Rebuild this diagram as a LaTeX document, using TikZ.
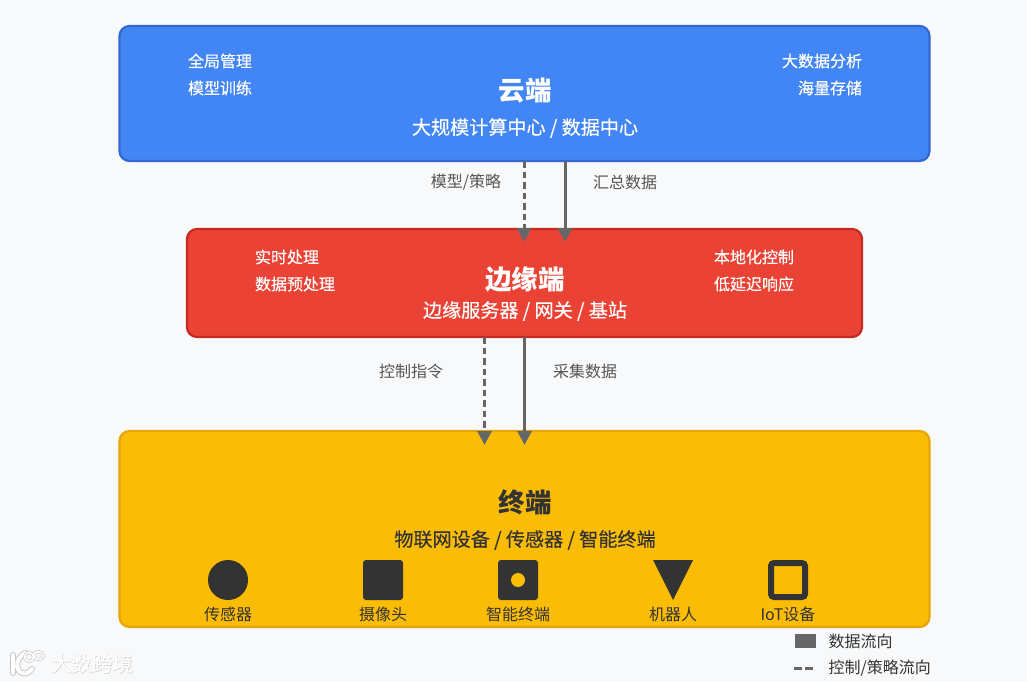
\documentclass[tikz,border=0pt]{standalone}
\usepackage{fontspec}
\setmainfont{Noto Sans CJK SC}
\newfontfamily\medfont[FakeBold=0.35]{Noto Sans CJK SC}
\newfontfamily\wmfont[FakeBold=0.6]{Noto Sans CJK SC}
\newfontfamily\wmshadefont[FakeBold=1.6]{Noto Sans CJK SC}
\usetikzlibrary{arrows.meta,calc}
\definecolor{bg}{HTML}{F8F9FA}
\definecolor{cloudfill}{HTML}{4285F4}
\definecolor{cloudline}{HTML}{3367D6}
\definecolor{edgefill}{HTML}{EA4335}
\definecolor{edgeline}{HTML}{C5291F}
\definecolor{termfill}{HTML}{FBBC05}
\definecolor{termline}{HTML}{E6A50A}
\definecolor{flow}{HTML}{666666}
\definecolor{ink}{HTML}{333333}
\definecolor{lab}{HTML}{555555}
\definecolor{wmshade}{HTML}{C8C9CA}
\tikzset{
 tier/.style={draw=#1line,fill=#1fill,line width=2.2pt,rounded corners=10pt,inner sep=0pt,outer sep=0pt,anchor=north west},
 big/.style={font=\fontsize{26.5}{30}\selectfont\bfseries},
 sub/.style={font=\fontsize{19.1}{22}\medfont},
 small/.style={font=\fontsize{16}{20}\medfont,text=white},
 flowlab/.style={font=\fontsize{16}{20}\selectfont,text=lab},
 devlab/.style={font=\fontsize{16}{20}\selectfont,text=ink},
 flowline/.style={draw=flow,line width=3pt,-{Triangle[length=14pt,width=14pt]}},
 ctrl/.style={flowline,dash pattern=on 6.5pt off 4pt},
 dev/.style={fill=ink,inner sep=0pt,minimum width=40pt,minimum height=40pt},
 legendlab/.style={font=\fontsize{16}{20}\selectfont,text=ink,anchor=west},
}
\begin{document}
\begin{tikzpicture}[x=1pt,y=-1pt]
\useasboundingbox (0,0) rectangle (1027,681);
\fill[bg] (0,0) rectangle (1027,681);
% tiers
\node[tier=cloud,minimum width=810pt,minimum height=135pt] (cloud) at (119.5,26) {};
\node[tier=edge,minimum width=675pt,minimum height=108pt] (edge) at (187,229) {};
\node[tier=term,minimum width=810pt,minimum height=196pt] (term) at (119.5,431) {};
% cloud text
\node[big,text=white] (cloudt) at (525,91) {云端};
\node[sub,text=white] (clouds) at (525,128) {大规模计算中心 / 数据中心};
\node[small] (c1) at (220,61) {全局管理};
\node[small] (c2) at (220,88) {模型训练};
\node[small] (c3) at (822,61) {大数据分析};
\node[small] (c4) at (830,88) {海量存储};
% edge text
\node[big,text=white] (edget) at (525,280) {边缘端};
\node[sub,text=white] (edges) at (525,311) {边缘服务器 / 网关 / 基站};
\node[small] (e1) at (287,257) {实时处理};
\node[small] (e2) at (295,284) {数据预处理};
\node[small] (e3) at (754,257) {本地化控制};
\node[small] (e4) at (754,284) {低延迟响应};
% terminal text
\node[big,text=ink] (termt) at (525,502) {终端};
\node[sub,text=ink] (terms) at (525,540) {物联网设备 / 传感器 / 智能终端};
% devices
\node[dev,circle] (d1) at (228,580) {};
\node[dev,rounded corners=3pt] (d2) at (383,580) {};
\node[dev,rounded corners=3pt] (d3) at (518,580) {};
\node[circle,fill=termfill,inner sep=0pt,minimum size=14pt] (d3i) at (518,580) {};
\coordinate (d4) at (673,580);
\fill[ink] ($(d4)+(-20,-20)$) -- ($(d4)+(20,-20)$) -- ($(d4)+(0,20)$) -- cycle;
\node[draw=ink,line width=6pt,fill=none,rounded corners=3pt,inner sep=0pt,outer sep=0pt,minimum width=34pt,minimum height=34pt] (d5) at (788,580) {};
\node[devlab] (l1) at (228,614.5) {传感器};
\node[devlab] (l2) at (383,614.5) {摄像头};
\node[devlab] (l3) at (518,614.5) {智能终端};
\node[devlab] (l4) at (673,614.5) {机器人};
\node[devlab] (l5) at (788,614.5) {IoT设备};
% connectors
\coordinate (a1) at (524,242);
\coordinate (a2) at (565,242);
\coordinate (a3) at (484.5,445);
\coordinate (a4) at (524.5,445);
\draw[ctrl] (cloud.south -| a1) -- (a1);
\draw[flowline] (cloud.south -| a2) -- (a2);
\draw[ctrl] (edge.south -| a3) -- (a3);
\draw[flowline] (edge.south -| a4) -- (a4);
\node[flowlab] (f1) at (466,182.5) {模型/策略};
\node[flowlab] (f2) at (625,182.5) {汇总数据};
\node[flowlab] (f3) at (411,371.5) {控制指令};
\node[flowlab] (f4) at (585,371.5) {采集数据};
% legend
\node[fill=flow,inner sep=0pt,minimum width=21pt,minimum height=14pt] (k1) at (805,641) {};
\node[legendlab] (k1l) at (825,641.5) {数据流向};
\coordinate (k2a) at (794,668);
\coordinate (k2b) at (813,668);
\draw[flow,line width=3pt,dash pattern=on 7.5pt off 3.5pt] (k2a) -- (k2b);
\node[legendlab] (k2l) at (825,668.5) {控制/策略流向};
% watermark
\node[font=\fontsize{20.5}{24}\wmshadefont,text=wmshade] (wms) at (92.5,664) {大数跨境};
\node[font=\fontsize{20.5}{24}\wmfont,text=white] (wm) at (92,663.5) {大数跨境};
\foreach \c/\w in {wmshade/6,white/4}{
 \draw[\c,line width=\w pt,line cap=round] (13,655) -- (13,673);
 \draw[\c,line width=\w pt,line cap=round] (25,653) .. controls (17,658) and (15,666) .. (19,671) .. controls (23,675) and (28,674) .. (32,669);
}
\foreach \c/\w in {wmshade/3,white/1.6}{
 \draw[\c,line width=\w pt] (29,657) circle (4.5pt);
 \draw[\c,line width=\w pt] (38.5,655.5) ellipse (5pt and 4pt);
}
\end{tikzpicture}
\end{document}
